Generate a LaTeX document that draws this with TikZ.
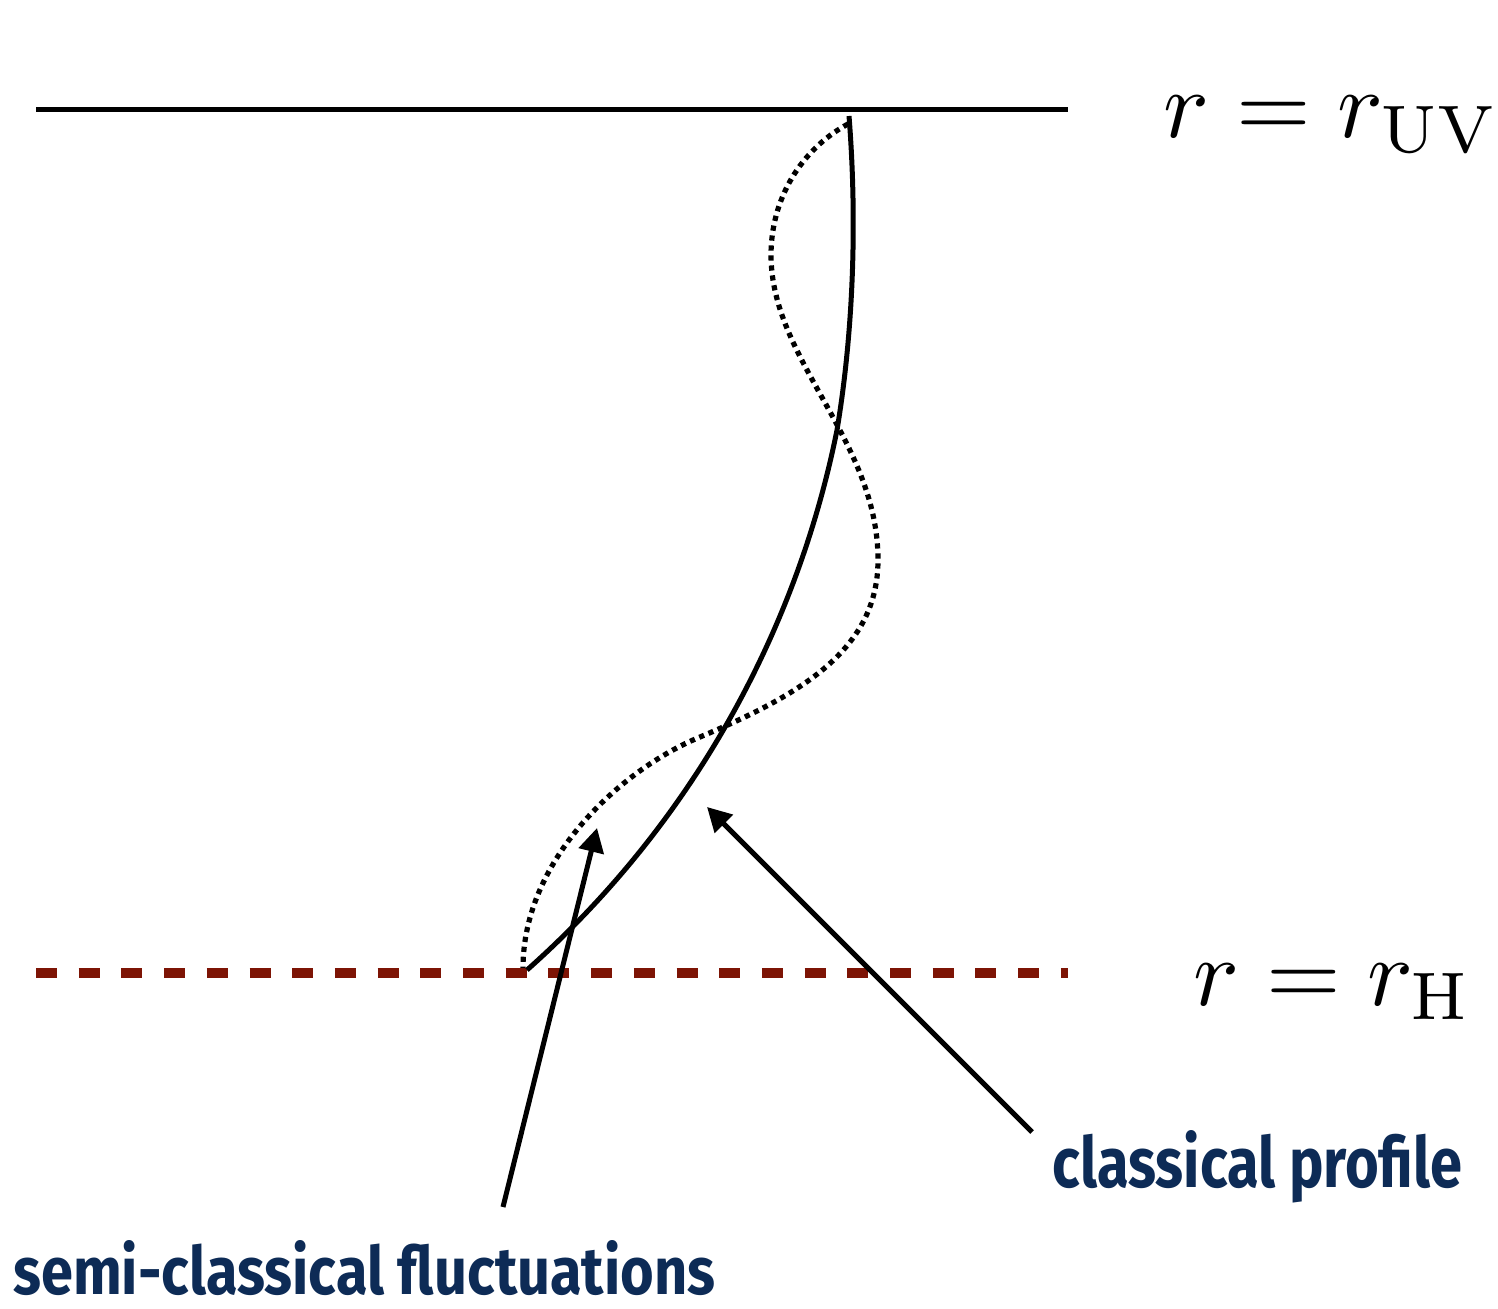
\documentclass[tikz,border=0pt]{standalone}
\usepackage{fontspec}
\usetikzlibrary{arrows.meta}
\newfontfamily\handfont{Fira Sans}
\definecolor{horizonred}{HTML}{7D1405}
\definecolor{labelnavy}{HTML}{0D2B56}
\tikzset{
  boundary/.style={line width=2.5pt},
  horizon/.style={line width=5pt, horizonred, dash pattern=on 10.5pt off 10.85pt},
  profile/.style={line width=2.5pt},
  fluct/.style={line width=2.6pt, dash pattern=on 2.6pt off 2.4pt},
  pointer/.style={line width=2.5pt, -{Triangle[length=12pt,width=12.5pt]}},
  mathlabel/.style={anchor=base west, inner sep=0pt},
  handlabel/.style={anchor=base west, inner sep=0pt, text=labelnavy}
}
\begin{document}
\begin{tikzpicture}[x=0.5pt,y=-0.5pt]
\path[use as bounding box] (0,0) rectangle (1498,1309);
% boundaries
\coordinate (uvL) at (36,110);
\coordinate (uvR) at (1068,110);
\coordinate (hL) at (36,973);
\coordinate (hR) at (1068,973);
\draw[boundary] (uvL) -- (uvR);
\draw[horizon] (hL) -- (hR);
% labels
\node[mathlabel] (uvlab) at (1163,138) {\scalebox{4.8}{$r = r_{\mathrm{UV}}$}};
\node[mathlabel] (hlab) at (1193,1005) {\scalebox{4.8}{$r = r_{\mathrm{H}}$}};
% classical profile
\coordinate (ptop) at (849,116);
\coordinate (pmid) at (837,430);
\coordinate (pbot) at (527,970);
\draw[profile] (ptop) .. controls (858,230) and (852,340) .. (pmid)
  .. controls (801,610) and (707,810) .. (pbot);
% fluctuation
\coordinate (ftop) at (848,124);
\coordinate (fleft) at (771,255);
\coordinate (fright) at (878,560);
\coordinate (fcross) at (700,737);
\coordinate (fbot) at (523,968);
\draw[fluct] (ftop) .. controls (800,150) and (771,200) .. (fleft)
  .. controls (771,360) and (878,440) .. (fright)
  .. controls (878,650) and (800,695) .. (fcross)
  .. controls (620,770) and (523,860) .. (fbot);
% text labels
\node[handlabel] (semilab) at (13,1294) {\resizebox{351pt}{27pt}{\handfont\bfseries semi-classical fluctuations}};
\node[handlabel] (classlab) at (1052,1187) {\resizebox{205pt}{28.5pt}{\handfont\bfseries classical profile}};
% arrows
\coordinate (semitail) at (503,1207);
\coordinate (semitip) at (597,828);
\coordinate (classtail) at (1032,1132);
\coordinate (classtip) at (707,807);
\draw[pointer] (semitail) -- (semitip);
\draw[pointer] (classtail) -- (classtip);
\end{tikzpicture}
\end{document}
